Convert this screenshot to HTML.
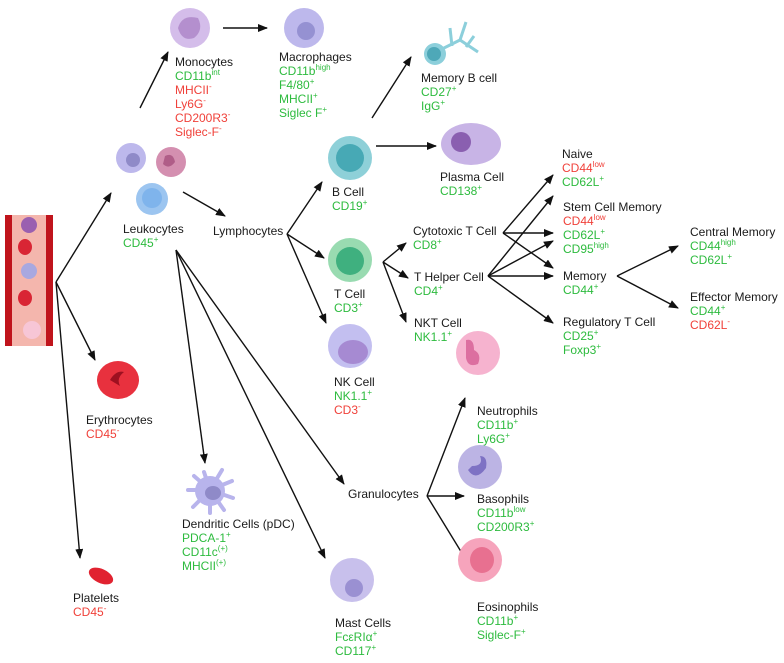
<!DOCTYPE html>
<html><head><meta charset="utf-8"><style>
html,body{margin:0;padding:0;background:#fff}
svg{display:block}
text{font-family:"Liberation Sans",sans-serif;font-size:12px;fill:#1a1a1a}
.g{fill:#2dbb3e}.r{fill:#f0413a}
tspan.s{font-size:8px}
</style></head><body>
<svg width="784" height="663" viewBox="0 0 784 663" xmlns="http://www.w3.org/2000/svg">
<defs><marker id="a" markerWidth="10" markerHeight="8" refX="9" refY="4" orient="auto" markerUnits="userSpaceOnUse"><path d="M0,0 L10,4 L0,8 Z" fill="#111"/></marker></defs>
<g stroke="#111" stroke-width="1.4" fill="none" marker-end="url(#a)">
<path d="M56,282 L111,193"/><path d="M56,282 L95,360"/><path d="M56,282 L80,558"/>
<path d="M140,108 L168,52"/><path d="M223,28 L267,28"/><path d="M372,118 L411,57"/>
<path d="M183,192 L225,216"/>
<path d="M287,234 L322,182"/><path d="M287,234 L324,258"/><path d="M287,234 L326,323"/>
<path d="M376,146 L436,146"/>
<path d="M176,250 L205,463"/><path d="M176,250 L325,558"/><path d="M176,250 L344,484"/>
<path d="M383,262 L406,243"/><path d="M383,262 L408,278"/><path d="M383,262 L406,322"/>
<path d="M503,233 L553,175"/><path d="M503,233 L553,233"/><path d="M503,233 L553,268"/>
<path d="M488,276 L553,196"/><path d="M488,276 L553,241"/><path d="M488,276 L553,276"/><path d="M488,276 L553,323"/>
<path d="M617,276 L678,246"/><path d="M617,276 L678,308"/>
<path d="M427,496 L465,398"/><path d="M427,496 L464,496"/><path d="M427,496 L468,563"/>
</g>
<!-- vessel -->
<rect x="5" y="215" width="48" height="131" fill="#f4b6ad"/>
<rect x="5" y="215" width="7" height="131" fill="#c0141c"/><rect x="46" y="215" width="7" height="131" fill="#c0141c"/>
<circle cx="29" cy="225" r="8" fill="#9a5fb0"/><ellipse cx="25" cy="247" rx="7" ry="8" fill="#d92534"/>
<circle cx="29" cy="271" r="8" fill="#a9a8e0"/><ellipse cx="25" cy="298" rx="7" ry="8" fill="#d92534"/>
<circle cx="32" cy="330" r="9" fill="#f7c6d6"/>
<!-- leukocytes -->
<circle cx="131" cy="158" r="15" fill="#bdb8ec"/><circle cx="133" cy="160" r="7" fill="#8f8ac8"/>
<circle cx="171" cy="162" r="15" fill="#d48fb0"/><path d="M165,156 q8,-4 10,6 q-6,8 -12,2z" fill="#b05d88"/>
<circle cx="152" cy="199" r="16" fill="#9cc5f0"/><circle cx="152" cy="198" r="10" fill="#7fb4ec"/>
<circle cx="190" cy="28" r="20" fill="#d4bdea"/><path d="M178,28 q4,-14 20,-10 q6,12 -4,20 q-12,4 -16,-10z" fill="#b48fce"/>
<circle cx="304" cy="28" r="20" fill="#bdb8ec"/><circle cx="306" cy="31" r="9" fill="#9591d2"/>
<!-- memory B -->
<g stroke="#8ccfdb" stroke-width="3" fill="none"><path d="M440,50 L460,40 L466,22"/><path d="M460,40 L478,52"/><path d="M452,46 L450,28"/><path d="M466,47 L474,36"/></g>
<circle cx="435" cy="54" r="11" fill="#8ccfdb"/><circle cx="434" cy="54" r="7" fill="#4ea8b8"/>
<circle cx="350" cy="158" r="22" fill="#8ed0d8"/><circle cx="350" cy="158" r="14" fill="#47a9b5"/>
<ellipse cx="471" cy="144" rx="30" ry="21" fill="#c8b4e6"/><circle cx="461" cy="142" r="10" fill="#8a5fb0"/>
<circle cx="350" cy="260" r="22" fill="#99dbb1"/><circle cx="350" cy="261" r="14" fill="#3fb07f"/>
<circle cx="350" cy="346" r="22" fill="#c3bff0"/><ellipse cx="353" cy="352" rx="15" ry="12" fill="#a68ad2"/>
<ellipse cx="118" cy="380" rx="21" ry="19" fill="#e8313e"/><path d="M110,380 q6,-10 14,-8 q-8,6 -4,14z" fill="#9e1020"/>
<ellipse cx="101" cy="576" rx="13" ry="7" transform="rotate(25 101 576)" fill="#e12230"/>
<g stroke="#b8b4ec" stroke-width="4" stroke-linecap="round" fill="none">
<path d="M210,490 L204,472"/><path d="M210,490 L222,470"/><path d="M210,490 L232,481"/><path d="M210,490 L233,498"/>
<path d="M210,490 L224,510"/><path d="M210,490 L210,513"/><path d="M210,490 L193,507"/><path d="M210,490 L188,490"/><path d="M210,490 L194,476"/></g>
<circle cx="210" cy="491" r="15" fill="#b8b4ec"/><ellipse cx="213" cy="493" rx="8" ry="7" fill="#8f8ac8"/>
<circle cx="352" cy="580" r="22" fill="#c8c0ec"/><circle cx="354" cy="588" r="9" fill="#9a90d2"/>
<circle cx="478" cy="353" r="22" fill="#f6b3cf"/><path d="M466,340 q8,-2 8,10 q8,4 4,14 q-10,4 -12,-6z" fill="#dc6fa0"/>
<circle cx="480" cy="467" r="22" fill="#bcb4e4"/><path d="M468,470 q8,12 18,-2 q2,-12 -6,-12 q4,10 -8,10z" fill="#7e72c4"/>
<circle cx="480" cy="560" r="22" fill="#f6a4bc"/><ellipse cx="482" cy="560" rx="12" ry="13" fill="#e87090"/>
<!-- labels -->
<text x="175" y="66">Monocytes</text>
<text x="175" y="80" class="g">CD11b<tspan class="s" dy="-5">int</tspan></text>
<text x="175" y="94" class="r">MHCII<tspan class="s" dy="-5">-</tspan></text>
<text x="175" y="108" class="r">Ly6G<tspan class="s" dy="-5">-</tspan></text>
<text x="175" y="122" class="r">CD200R3<tspan class="s" dy="-5">-</tspan></text>
<text x="175" y="136" class="r">Siglec-F<tspan class="s" dy="-5">-</tspan></text>
<text x="279" y="61">Macrophages</text>
<text x="279" y="75" class="g">CD11b<tspan class="s" dy="-5">high</tspan></text>
<text x="279" y="89" class="g">F4/80<tspan class="s" dy="-5">+</tspan></text>
<text x="279" y="103" class="g">MHCII<tspan class="s" dy="-5">+</tspan></text>
<text x="279" y="117" class="g">Siglec F<tspan class="s" dy="-5">+</tspan></text>
<text x="421" y="82">Memory B cell</text>
<text x="421" y="96" class="g">CD27<tspan class="s" dy="-5">+</tspan></text>
<text x="421" y="110" class="g">IgG<tspan class="s" dy="-5">+</tspan></text>
<text x="440" y="181">Plasma Cell</text>
<text x="440" y="195" class="g">CD138<tspan class="s" dy="-5">+</tspan></text>
<text x="123" y="233">Leukocytes</text>
<text x="123" y="247" class="g">CD45<tspan class="s" dy="-5">+</tspan></text>
<text x="213" y="235">Lymphocytes</text>
<text x="332" y="196">B Cell</text>
<text x="332" y="210" class="g">CD19<tspan class="s" dy="-5">+</tspan></text>
<text x="334" y="298">T Cell</text>
<text x="334" y="312" class="g">CD3<tspan class="s" dy="-5">+</tspan></text>
<text x="334" y="386">NK Cell</text>
<text x="334" y="400" class="g">NK1.1<tspan class="s" dy="-5">+</tspan></text>
<text x="334" y="414" class="r">CD3<tspan class="s" dy="-5">-</tspan></text>
<text x="413" y="235">Cytotoxic T Cell</text>
<text x="413" y="249" class="g">CD8<tspan class="s" dy="-5">+</tspan></text>
<text x="414" y="281">T Helper Cell</text>
<text x="414" y="295" class="g">CD4<tspan class="s" dy="-5">+</tspan></text>
<text x="414" y="327">NKT Cell</text>
<text x="414" y="341" class="g">NK1.1<tspan class="s" dy="-5">+</tspan></text>
<text x="562" y="158">Naive</text>
<text x="562" y="172" class="r">CD44<tspan class="s" dy="-5">low</tspan></text>
<text x="562" y="186" class="g">CD62L<tspan class="s" dy="-5">+</tspan></text>
<text x="563" y="211">Stem Cell Memory</text>
<text x="563" y="225" class="r">CD44<tspan class="s" dy="-5">low</tspan></text>
<text x="563" y="239" class="g">CD62L<tspan class="s" dy="-5">+</tspan></text>
<text x="563" y="253" class="g">CD95<tspan class="s" dy="-5">high</tspan></text>
<text x="563" y="280">Memory</text>
<text x="563" y="294" class="g">CD44<tspan class="s" dy="-5">+</tspan></text>
<text x="563" y="326">Regulatory T Cell</text>
<text x="563" y="340" class="g">CD25<tspan class="s" dy="-5">+</tspan></text>
<text x="563" y="354" class="g">Foxp3<tspan class="s" dy="-5">+</tspan></text>
<text x="690" y="236">Central Memory</text>
<text x="690" y="250" class="g">CD44<tspan class="s" dy="-5">high</tspan></text>
<text x="690" y="264" class="g">CD62L<tspan class="s" dy="-5">+</tspan></text>
<text x="690" y="301">Effector Memory</text>
<text x="690" y="315" class="g">CD44<tspan class="s" dy="-5">+</tspan></text>
<text x="690" y="329" class="r">CD62L<tspan class="s" dy="-5">-</tspan></text>
<text x="86" y="424">Erythrocytes</text>
<text x="86" y="438" class="r">CD45<tspan class="s" dy="-5">-</tspan></text>
<text x="73" y="602">Platelets</text>
<text x="73" y="616" class="r">CD45<tspan class="s" dy="-5">-</tspan></text>
<text x="182" y="528">Dendritic Cells (pDC)</text>
<text x="182" y="542" class="g">PDCA-1<tspan class="s" dy="-5">+</tspan></text>
<text x="182" y="556" class="g">CD11c<tspan class="s" dy="-5">(+)</tspan></text>
<text x="182" y="570" class="g">MHCII<tspan class="s" dy="-5">(+)</tspan></text>
<text x="335" y="627">Mast Cells</text>
<text x="335" y="641" class="g">FcεRIα<tspan class="s" dy="-5">+</tspan></text>
<text x="335" y="655" class="g">CD117<tspan class="s" dy="-5">+</tspan></text>
<text x="348" y="498">Granulocytes</text>
<text x="477" y="415">Neutrophils</text>
<text x="477" y="429" class="g">CD11b<tspan class="s" dy="-5">+</tspan></text>
<text x="477" y="443" class="g">Ly6G<tspan class="s" dy="-5">+</tspan></text>
<text x="477" y="503">Basophils</text>
<text x="477" y="517" class="g">CD11b<tspan class="s" dy="-5">low</tspan></text>
<text x="477" y="531" class="g">CD200R3<tspan class="s" dy="-5">+</tspan></text>
<text x="477" y="611">Eosinophils</text>
<text x="477" y="625" class="g">CD11b<tspan class="s" dy="-5">+</tspan></text>
<text x="477" y="639" class="g">Siglec-F<tspan class="s" dy="-5">+</tspan></text>
</svg>
</body></html>
